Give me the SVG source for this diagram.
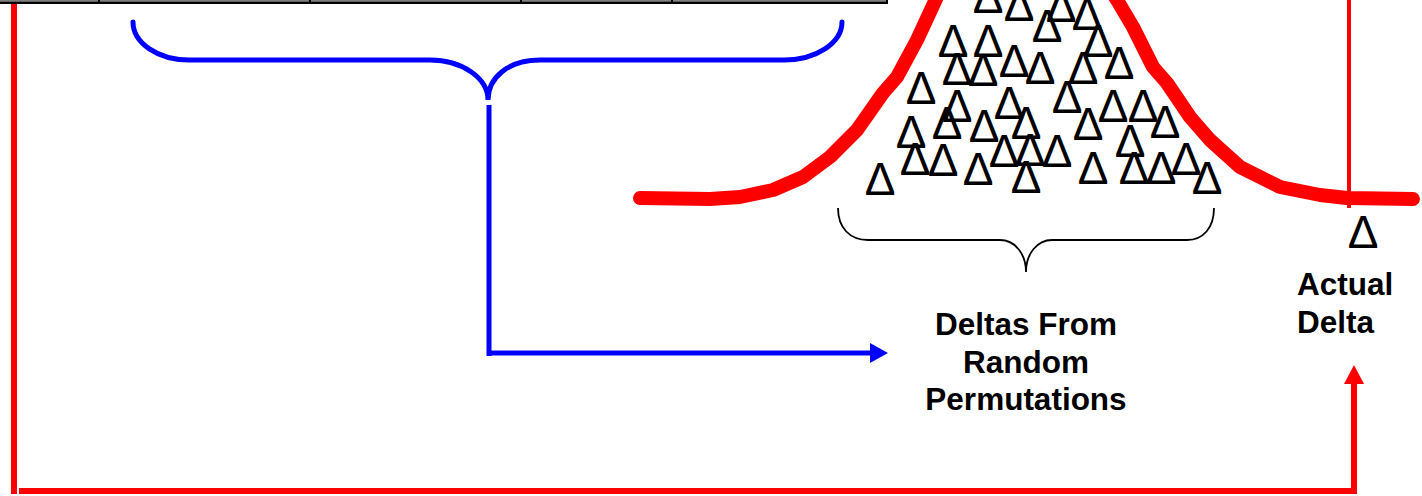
<svg xmlns="http://www.w3.org/2000/svg" width="1422" height="496" viewBox="0 0 1422 496">
  <style>
    .delta { font-family: "Liberation Sans", Arial, sans-serif; font-size: 46px; fill: #000; text-anchor: middle; }
    .label { font-family: "Liberation Sans", Arial, sans-serif; font-size: 31.5px; font-weight: bold; fill: #000; }
    .red { stroke: #ff0000; fill: none; }
    .blue { stroke: #0000ff; fill: none; }
  </style>
  <defs>
    <marker id="blueHead" markerUnits="userSpaceOnUse" markerWidth="18" markerHeight="20" refX="0" refY="10" orient="auto">
      <path d="M0,0 L18,10 L0,20 Z" fill="#0000ff"/>
    </marker>
    <marker id="redHead" markerUnits="userSpaceOnUse" markerWidth="19" markerHeight="20" refX="0" refY="10" orient="auto">
      <path d="M0,0 L19,10 L0,20 Z" fill="#ff0000"/>
    </marker>
  </defs>
  <rect width="1422" height="496" fill="#ffffff"/>

  <!-- bottom edge of the table row above -->
  <g id="table-edge">
    <rect x="0" y="0" width="887" height="1.5" fill="#808080"/>
    <rect x="0" y="1.5" width="888" height="2.5" fill="#000"/>
    <rect x="98" y="0" width="2" height="4" fill="#000"/>
    <rect x="309" y="0" width="2" height="4" fill="#000"/>
    <rect x="520" y="0" width="2" height="4" fill="#000"/>
    <rect x="671" y="0" width="2" height="4" fill="#000"/>
    <rect x="886" y="0" width="2" height="4" fill="#000"/>
  </g>

  <!-- distribution curve -->
  <g id="curve">
    <polyline class="red" stroke-width="14" stroke-linecap="round" stroke-linejoin="round"
      points="640,198 710,199 740,197 773,190 803,177 830,157 857,130 883,93 897,77 917,40 930,12 942,-14 1026,-90 1108,-14 1117,0 1133,27 1153,67 1167,83 1190,117 1210,140 1240,167 1280,187 1320,195 1347,198 1413,199"/>
  </g>

  <!-- permutation deltas -->
  <g id="deltas">
    <text class="delta" x="988" y="13">Δ</text>
    <text class="delta" x="1019" y="21">Δ</text>
    <text class="delta" x="1047" y="42">Δ</text>
    <text class="delta" x="1061" y="22">Δ</text>
    <text class="delta" x="1087" y="30">Δ</text>
    <text class="delta" x="953" y="57">Δ</text>
    <text class="delta" x="988" y="57">Δ</text>
    <text class="delta" x="1098" y="57">Δ</text>
    <text class="delta" x="957" y="85">Δ</text>
    <text class="delta" x="983" y="86">Δ</text>
    <text class="delta" x="1014" y="77">Δ</text>
    <text class="delta" x="1040" y="84">Δ</text>
    <text class="delta" x="1083" y="84">Δ</text>
    <text class="delta" x="1119" y="79">Δ</text>
    <text class="delta" x="921" y="104">Δ</text>
    <text class="delta" x="957" y="122">Δ</text>
    <text class="delta" x="1009" y="119">Δ</text>
    <text class="delta" x="1067" y="113">Δ</text>
    <text class="delta" x="1113" y="122">Δ</text>
    <text class="delta" x="1143" y="122">Δ</text>
    <text class="delta" x="1165" y="138">Δ</text>
    <text class="delta" x="911" y="148">Δ</text>
    <text class="delta" x="947" y="139">Δ</text>
    <text class="delta" x="984" y="142">Δ</text>
    <text class="delta" x="1026" y="139">Δ</text>
    <text class="delta" x="1088" y="140">Δ</text>
    <text class="delta" x="1130" y="157">Δ</text>
    <text class="delta" x="915" y="175">Δ</text>
    <text class="delta" x="943" y="176">Δ</text>
    <text class="delta" x="1004" y="167">Δ</text>
    <text class="delta" x="1030" y="166">Δ</text>
    <text class="delta" x="1057" y="167">Δ</text>
    <text class="delta" x="880" y="195">Δ</text>
    <text class="delta" x="978" y="185">Δ</text>
    <text class="delta" x="1026" y="193">Δ</text>
    <text class="delta" x="1093" y="184">Δ</text>
    <text class="delta" x="1134" y="184">Δ</text>
    <text class="delta" x="1161" y="184">Δ</text>
    <text class="delta" x="1186" y="175">Δ</text>
    <text class="delta" x="1207" y="194">Δ</text>
  </g>

  <!-- observed delta marker -->
  <g id="actual-delta">
    <line class="red" x1="1349" y1="0" x2="1349" y2="208" stroke-width="4"/>
    <text class="delta" x="1363" y="248">Δ</text>
    <text class="label" x="1297" y="295">Actual</text>
    <text class="label" x="1297" y="333">Delta</text>
  </g>

  <!-- brace over the table columns -->
  <g id="brace-top">
    <path class="blue" stroke-width="5" stroke-linecap="round"
      d="M133,22 C133,43 158,60 189,60 L430,60 C462,60 488,78 488,100 C488,78 508,60 540,60 L784,60 C816,60 842,43 842,22"/>
  </g>

  <!-- brace under the permutation deltas -->
  <g id="brace-bottom">
    <path stroke="#000" fill="none" stroke-width="1.8"
      d="M838,208 C838,228 850,240 868,240 L1000,240 C1015,240 1026,254 1026,272 C1026,254 1037,240 1052,240 L1187,240 C1203,240 1214,228 1214,208"/>
  </g>

  <g id="label-random">
    <text class="label" x="1026" y="335" text-anchor="middle">Deltas From</text>
    <text class="label" x="1026" y="373" text-anchor="middle">Random</text>
    <text class="label" x="1026" y="410" text-anchor="middle">Permutations</text>
  </g>

  <g id="connectors">
    <!-- blue: table columns to permutation deltas -->
    <line class="blue" x1="489" y1="105" x2="489" y2="356" stroke-width="5"/>
    <line class="blue" x1="487" y1="353" x2="870" y2="353" stroke-width="5" marker-end="url(#blueHead)"/>
    <!-- red: left side round to the actual delta -->
    <line class="red" x1="14" y1="4" x2="14" y2="494" stroke-width="6"/>
    <line class="red" x1="19" y1="491" x2="1357" y2="491" stroke-width="6"/>
    <line class="red" x1="1354" y1="494" x2="1354" y2="384" stroke-width="6" marker-end="url(#redHead)"/>
  </g>
</svg>
